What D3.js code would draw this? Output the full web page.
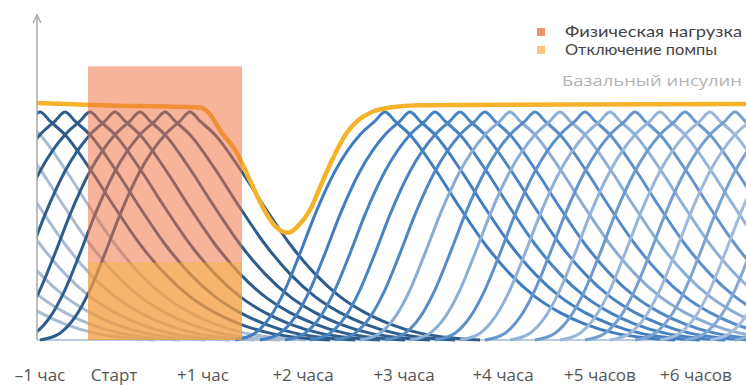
<!DOCTYPE html>
<html lang="ru">
  <head>
    <meta charset="UTF-8" />
    <title>Базальный инсулин и физическая нагрузка</title>
    <script src="https://d3js.org/d3.v7.min.js"></script>
    <style>
      body { margin: 0; background: #fff; }
      text { font-family: "Open Sans", "Noto Sans", sans-serif; }
      .tick-label { font-size: 17px; fill: #555; text-anchor: middle; }
      .legend-label { font-family: Lato, sans-serif; font-size: 15px; fill: #444; }
    </style>
  </head>
  <body>
    <svg id="chart" width="746" height="385"></svg>
    <script>
      // time in hours, level relative to one dose peak
      const tickHours = [-0.6, 0.14, 1.03, 2.03, 3.04, 4.03, 5.0, 5.96];
      const tickLabels = ["–1 час", "Старт", "+1 час", "+2 часа", "+3 часа", "+4 часа", "+5 часов", "+6 часов"];

      // shape of one basal dose, offset from its peak (hours) -> level
      const profileDx = [-1.5, -1.3, -1.15, -1.0, -0.85, -0.7, -0.5, -0.25, -0.1, 0, 0.1, 0.25, 0.5, 0.75, 1.0, 1.25, 1.5, 1.75, 2.0, 2.3, 2.6, 2.9];
      const profileVal = [0, 0.03, 0.1, 0.22, 0.38, 0.55, 0.74, 0.9, 0.96, 1, 0.96, 0.9, 0.75, 0.58, 0.42, 0.29, 0.19, 0.12, 0.07, 0.03, 0.01, 0];

      // dose peaks before the pump was switched off, and after it was reconnected
      const peaksBefore = [-2.35, -2.1, -1.85, -1.6, -1.35, -1.1, -0.85, -0.6, -0.35, -0.1, 0.15, 0.4, 0.65, 0.9];
      const peaksAfter = [2.85, 3.1, 3.35, 3.6, 3.85, 4.1, 4.35, 4.6, 4.85, 5.1, 5.35, 5.6, 5.85, 6.1, 6.35, 6.6, 6.85, 7.1, 7.35, 7.6, 7.85];

      // total basal insulin line
      const basalHours = [-0.63, 0, 1, 1.1, 1.2, 1.37, 1.5, 1.63, 1.75, 1.88, 1.98, 2.1, 2.2, 2.3, 2.47, 2.6, 2.72, 2.9, 3.2, 6.46];
      const basalLevel = [1.04, 1.03, 1.02, 0.99, 0.92, 0.82, 0.7, 0.58, 0.5, 0.47, 0.5, 0.57, 0.67, 0.77, 0.91, 0.97, 1.0, 1.02, 1.03, 1.035];

      // exercise and pump-off periods: [start, end] hours, [bottom, top] level
      const exerciseSpan = [-0.12, 1.42];
      const exerciseLevel = [0, 1.2];
      const pumpOffSpan = [-0.12, 1.42];
      const pumpOffLevel = [0, 0.34];

      const legendLabels = ["Физическая нагрузка", "Отключение помпы"];
      const basalLabel = "Базальный инсулин";

      const svg = d3.select("#chart");
      const x = d3.scaleLinear().domain([-0.63, 6.46]).range([37, 746]);
      const y = d3.scaleLinear().domain([0, 1]).range([340, 112]);

      svg.append("defs").append("clipPath").attr("id", "plot")
        .append("rect").attr("x", 37).attr("y", 0).attr("width", 709).attr("height", 345);

      const line = d3.line()
        .x((d) => x(d[0]))
        .y((d) => y(d[1]))
        .curve(d3.curveMonotoneX);

      const dose = (p) => profileDx.map((dx, i) => [p + dx, profileVal[i]]);

      const plot = svg.append("g").attr("clip-path", "url(#plot)");

      // faint baseline
      plot.append("line")
        .attr("x1", 37).attr("x2", 746)
        .attr("y1", y(0)).attr("y2", y(0))
        .attr("stroke", "#b9cbe0").attr("stroke-width", 2);

      const beforeColor = (p) => (p < -0.63 ? "#a7bbd3" : "#2e5d8c");
      plot.selectAll(".before")
        .data(peaksBefore)
        .enter()
        .append("path")
        .attr("d", (p) => line(dose(p)))
        .attr("fill", "none")
        .attr("stroke", beforeColor)
        .attr("stroke-width", 3);

      const n = peaksAfter.length;
      const afterColor = (p, i) => {
        const base = d3.interpolateRgb("#3f7dbf", "#8aadd7")(i / (n - 1));
        return i % 2 === 1 && i > 4 ? d3.interpolateRgb(base, "#c9d6e7")(0.45) : base;
      };
      plot.selectAll(".after")
        .data(peaksAfter)
        .enter()
        .append("path")
        .attr("d", (p) => line(dose(p)))
        .attr("fill", "none")
        .attr("stroke", afterColor)
        .attr("stroke-width", 3);

      // basal total
      plot.append("path")
        .attr("d", line(basalHours.map((h, i) => [h, basalLevel[i]])))
        .attr("fill", "none")
        .attr("stroke", "#f5b22a")
        .attr("stroke-width", 4.5);

      // shaded periods on top
      plot.append("rect")
        .attr("x", x(exerciseSpan[0]))
        .attr("width", x(exerciseSpan[1]) - x(exerciseSpan[0]))
        .attr("y", y(exerciseLevel[1]))
        .attr("height", y(exerciseLevel[0]) - y(exerciseLevel[1]))
        .attr("fill", "#ef7040")
        .attr("fill-opacity", 0.52);

      plot.append("rect")
        .attr("x", x(pumpOffSpan[0]))
        .attr("width", x(pumpOffSpan[1]) - x(pumpOffSpan[0]))
        .attr("y", y(pumpOffLevel[1]))
        .attr("height", y(pumpOffLevel[0]) - y(pumpOffLevel[1]))
        .attr("fill", "#f7b63c")
        .attr("fill-opacity", 0.5);

      // y axis with arrow
      svg.append("line")
        .attr("x1", 37).attr("x2", 37)
        .attr("y1", y(0)).attr("y2", 15)
        .attr("stroke", "#a8a8a8").attr("stroke-width", 1.5);
      svg.append("path")
        .attr("d", "M33,23L37,15L41,23")
        .attr("fill", "none")
        .attr("stroke", "#a8a8a8").attr("stroke-width", 1.5);

      // x tick labels
      svg.selectAll(".tick-label")
        .data(tickHours)
        .enter()
        .append("text")
        .attr("class", "tick-label")
        .attr("x", (h) => x(h))
        .attr("y", 381)
        .text((h, i) => tickLabels[i]);

      // legend
      const legendColors = ["#ef9467", "#f9c77f"];
      const legendWidths = [177, 152];
      const legend = svg.append("g").attr("transform", "translate(537,28)");
      legendLabels.forEach((label, i) => {
        legend.append("rect")
          .attr("x", 0).attr("y", i * 18)
          .attr("width", 8).attr("height", 8)
          .attr("fill", legendColors[i]);
        legend.append("text")
          .attr("class", "legend-label")
          .attr("x", 28).attr("y", i * 18 + 9)
          .attr("textLength", legendWidths[i])
          .attr("lengthAdjust", "spacingAndGlyphs")
          .text(label);
      });

      svg.append("text")
        .attr("x", 562).attr("y", 86)
        .attr("font-family", "Lato, sans-serif")
        .attr("font-size", 15)
        .attr("fill", "#b3b3b3")
        .attr("textLength", 180)
        .attr("lengthAdjust", "spacingAndGlyphs")
        .text(basalLabel);
    </script>
  </body>
</html>
